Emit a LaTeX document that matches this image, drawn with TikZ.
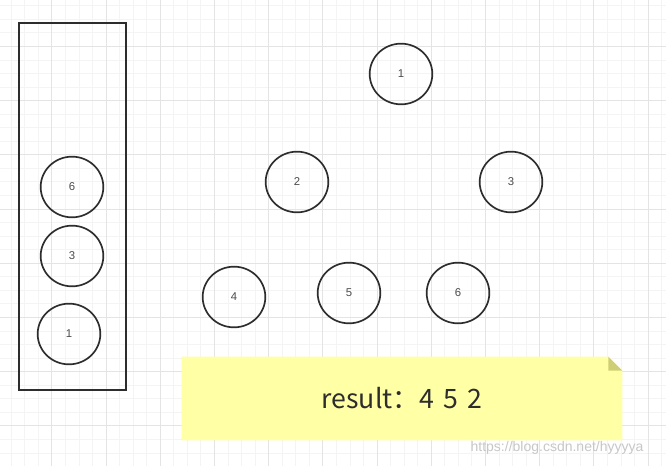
\documentclass[tikz,border=0pt]{standalone}
\usepackage{fontspec}
\setmainfont{Liberation Sans}
\newfontfamily\notefont{Noto Sans CJK SC}
\usepackage{tikz}
\usetikzlibrary{shapes.geometric,positioning,calc}
\definecolor{gridminor}{RGB}{244,244,244}
\definecolor{gridmajor}{RGB}{228,228,228}
\definecolor{inkgray}{RGB}{45,45,45}
\definecolor{noteyellow}{RGB}{255,255,166}
\definecolor{notefold}{RGB}{206,206,118}
\tikzset{
  ballnode/.style={
    draw=inkgray,
    line width=1.25pt,
    ellipse,
    minimum width=47pt,
    minimum height=45.5pt,
    inner sep=0pt,
    text=inkgray!85,
    font=\fontsize{8.5}{9}\selectfont
  },
  stackbox/.style={
    draw=inkgray,
    line width=1.5pt,
    minimum width=80.25pt,
    minimum height=275.25pt,
    inner sep=0pt
  },
  notebox/.style={
    minimum width=330pt,
    minimum height=62.25pt,
    inner sep=0pt,
    text=inkgray,
    font=\notefont\fontsize{20}{22}\selectfont
  },
  marknode/.style={
    text=black!22,
    font=\fontsize{10.5}{12}\selectfont
  }
}

\begin{document}
\begin{tikzpicture}[x=0.75pt, y=-0.75pt]
  % canvas and grid
  \useasboundingbox (0,0) rectangle (666,466);
  \fill[white] (0,0) rectangle (666,466);
  \foreach \k in {0,...,48}
    \draw[gridminor, line width=0.75pt] ({11.25+13.55*\k},0) -- ({11.25+13.55*\k},466);
  \foreach \k in {0,...,34}
    \draw[gridminor, line width=0.75pt] (0,{5.85+13.55*\k}) -- (666,{5.85+13.55*\k});
  \foreach \k in {0,...,11}
    \draw[gridmajor, line width=0.75pt] ({51.9+54.2*\k},0) -- ({51.9+54.2*\k},466);
  \foreach \k in {0,...,7}
    \draw[gridmajor, line width=0.75pt] (0,{46.5+54.2*\k}) -- (666,{46.5+54.2*\k});

  % stack
  \node[stackbox] (stack) at (72.5,206.5) {};
  \node[ballnode] (s6) at (72,187) {6};
  \node[ballnode] (s3) at (72,256) {3};
  \node[ballnode] (s1) at (69,334) {1};

  % tree
  \node[ballnode] (n1) at (401,74) {1};
  \node[ballnode] (n2) at (297,182) {2};
  \node[ballnode] (n3) at (511,182) {3};
  \node[ballnode] (n4) at (234,297) {4};
  \node[ballnode] (n5) at (349,293) {5};
  \node[ballnode] (n6) at (458,293) {6};

  % note
  \node[notebox] (note) at (402,398.5) {};
  \fill[noteyellow] (note.south west) -- (note.north west) -- ($(note.north east)+(-14,0)$)
    -- ($(note.north east)+(0,14)$) -- (note.south east) -- cycle;
  \fill[notefold] ($(note.north east)+(-14,0)$) -- ($(note.north east)+(-14,14)$)
    -- ($(note.north east)+(0,14)$) -- cycle;
  \node[notebox] (result) at (note.center) {result：4\hspace{2.5pt} 5\hspace{2.5pt} 2};

  \node[marknode] (mark) at (557,448) {https://blog.csdn.net/hyyyya};
\end{tikzpicture}
\end{document}
